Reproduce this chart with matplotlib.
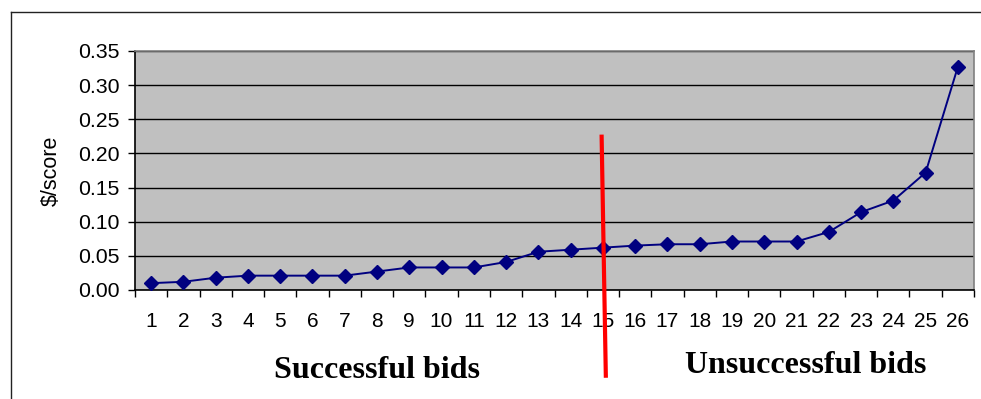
from __future__ import annotations

import matplotlib

matplotlib.use("Agg")

import matplotlib.pyplot as plt
import numpy as np
from matplotlib.lines import Line2D
from matplotlib.ticker import FixedLocator, FormatStrFormatter, MultipleLocator


# bid rank (sorted by cost per score point) and the cost per score point
BID_RANKS = list(range(1, 27))
DOLLARS_PER_SCORE = [
    0.010, 0.012, 0.018, 0.021, 0.021, 0.021, 0.021, 0.027, 0.033, 0.033,
    0.033, 0.041, 0.056, 0.059, 0.062, 0.065, 0.067, 0.067, 0.071, 0.071,
    0.071, 0.085, 0.114, 0.131, 0.172, 0.327,
]

# hand-drawn cut between accepted and rejected bids (data units, drawn past the axes)
CUTOFF_X = [14.96, 15.09]
CUTOFF_Y = [0.2245, -0.1255]

Y_TICKS = [0.00, 0.05, 0.10, 0.15, 0.20, 0.25, 0.30, 0.35]

NAVY = "#000080"
PLOT_GRAY = "#C0C0C0"


def configure_matplotlib() -> None:
    plt.rcParams["font.family"] = ["Liberation Sans", "DejaVu Sans"]
    plt.rcParams["axes.unicode_minus"] = False
    plt.rcParams["figure.facecolor"] = "white"
    plt.rcParams["savefig.facecolor"] = "white"


def draw_chart() -> plt.Figure:
    fig = plt.figure(figsize=(9.81, 3.99), dpi=100)
    ax = fig.add_axes([0.1376, 0.2732, 0.8553, 0.599])
    ax.set_facecolor(PLOT_GRAY)

    ax.plot(
        BID_RANKS,
        DOLLARS_PER_SCORE,
        color=NAVY,
        linewidth=1.4,
        marker="D",
        markersize=7.5,
        markerfacecolor=NAVY,
        markeredgecolor=NAVY,
        zorder=3,
    )

    ax.set_xlim(0.5, 26.5)
    ax.set_ylim(0, 0.35)

    # categories sit between the tick marks, as in a spreadsheet chart
    ax.xaxis.set_major_locator(FixedLocator(BID_RANKS))
    ax.xaxis.set_minor_locator(FixedLocator(np.arange(0.5, 27.0, 1.0)))
    ax.tick_params(axis="x", which="major", length=0, pad=16, labelsize=15)
    ax.tick_params(axis="x", which="minor", direction="out", length=5, width=1.0, color="black")

    ax.yaxis.set_major_locator(FixedLocator(Y_TICKS))
    ax.yaxis.set_major_formatter(FormatStrFormatter("%.2f"))
    ax.yaxis.set_minor_locator(MultipleLocator(1))
    ax.tick_params(axis="y", which="major", direction="out", length=5, width=1.0, pad=6, labelsize=15.3, color="black")

    ax.grid(True, axis="y", color="black", linewidth=1.0)
    ax.set_axisbelow(True)

    ax.spines["left"].set_color("black")
    ax.spines["bottom"].set_color("black")
    ax.spines["top"].set_color("#808080")
    ax.spines["right"].set_color("#808080")
    for spine in ax.spines.values():
        spine.set_linewidth(1.2)

    ax.set_ylabel("$/score", fontsize=15.5)
    ax.yaxis.set_label_coords(-0.087, 0.5)

    ax.add_line(
        Line2D(CUTOFF_X, CUTOFF_Y, color="#FF0000", linewidth=3.0, clip_on=False, zorder=5)
    )

    label_font = {"family": ["Liberation Serif", "DejaVu Serif"], "weight": "bold", "size": 23}
    fig.text(0.3848, 0.0534, "Successful bids", ha="center", va="baseline", **label_font)
    fig.text(0.8211, 0.0644, "Unsuccessful bids", ha="center", va="baseline", **label_font)

    # outer chart border (left and top edges are all that show)
    frame_left = 10.5 / 981
    frame_top = 1 - 11.5 / 399
    fig.add_artist(Line2D([frame_left, frame_left], [0, frame_top], color="#222222", linewidth=1.0))
    fig.add_artist(Line2D([frame_left, 1], [frame_top, frame_top], color="#222222", linewidth=1.0))

    return fig


def main() -> None:
    configure_matplotlib()
    fig = draw_chart()
    fig.savefig("out.png", dpi=100)
    plt.close(fig)


if __name__ == "__main__":
    main()
